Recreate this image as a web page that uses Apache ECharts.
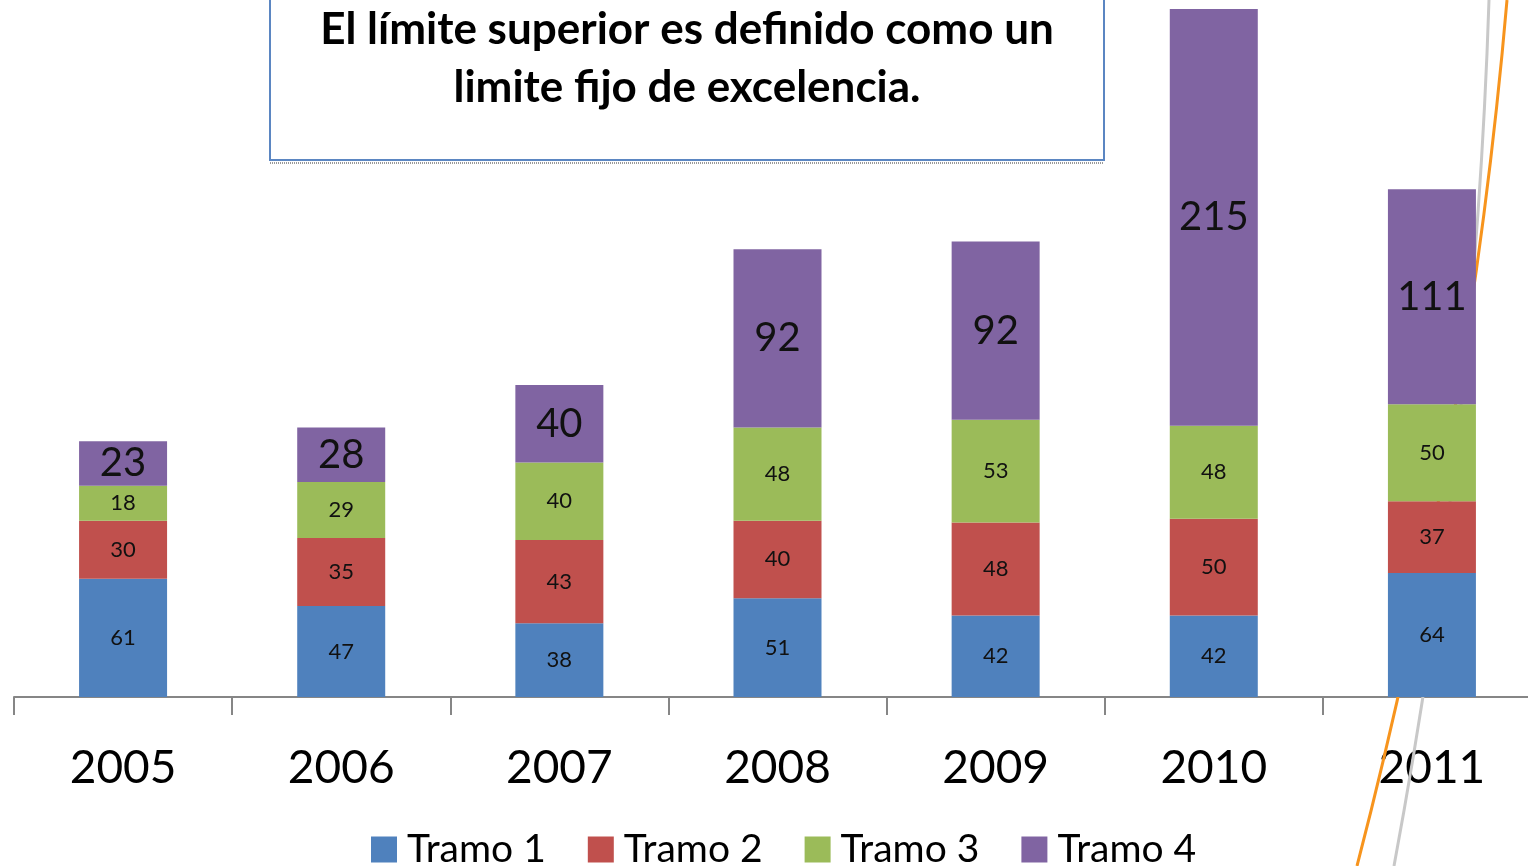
<!DOCTYPE html>
<html>
<head>
<meta charset="utf-8">
<script src="https://cdn.jsdelivr.net/npm/echarts@6/dist/echarts.min.js"></script>
<style>
  html, body { margin: 0; padding: 0; background: #fff; overflow: hidden; }
  #chart { width: 1541px; height: 866px; }
</style>
</head>
<body>
<div id="chart"></div>
<script>
var years = ['2005', '2006', '2007', '2008', '2009', '2010', '2011'];
var tramo1 = [61, 47, 38, 51, 42, 42, 64];
var tramo2 = [30, 35, 43, 40, 48, 50, 37];
var tramo3 = [18, 29, 40, 48, 53, 48, 50];
var tramo4 = [23, 28, 40, 92, 92, 215, 111];
var seriesNames = ['Tramo 1', 'Tramo 2', 'Tramo 3', 'Tramo 4'];
var colors = ['#4f81bd', '#c0504d', '#9bbb59', '#8064a2'];
var titleLines = ['El límite superior es definido como un', 'limite fijo de excelencia.'];

var font = 'Lato, "Open Sans", sans-serif';

// chart is a bit wider than the window: the last tick sits just off the right edge
var chart = echarts.init(document.getElementById('chart'));

function bar(name, data, color, size) {
  return {
    name: name,
    type: 'bar',
    stack: 'total',
    barWidth: 88,
    data: data,
    itemStyle: { color: color },
    label: {
      show: true,
      position: 'inside',
      fontFamily: font,
      fontSize: size,
      color: '#111'
    }
  };
}

chart.setOption({
  backgroundColor: '#fff',
  animation: false,
  color: colors,
  grid: { left: 14, right: 0, top: 9, bottom: 169 },
  legend: {
    data: seriesNames,
    left: 371,
    top: 830,
    padding: 0,
    icon: 'rect',
    itemWidth: 26,
    itemHeight: 26,
    itemGap: 42,
    textStyle: { fontFamily: font, fontSize: 39, color: '#000', padding: [0, 0, 0, 5] }
  },
  xAxis: {
    type: 'category',
    data: years,
    axisLine: { lineStyle: { color: '#868686', width: 2 } },
    axisTick: { show: true, length: 18, lineStyle: { color: '#868686', width: 2 } },
    axisLabel: { fontFamily: font, fontSize: 46, color: '#000', margin: 48 }
  },
  yAxis: {
    type: 'value',
    min: 0,
    max: 355,
    show: false,
    splitLine: { show: false }
  },
  series: [
    bar(seriesNames[0], tramo1, colors[0], 22),
    bar(seriesNames[1], tramo2, colors[1], 22),
    bar(seriesNames[2], tramo3, colors[2], 22),
    bar(seriesNames[3], tramo4, colors[3], 40)
  ],
  graphic: [
    // decorative slide curves, behind the bars
    {
      type: 'bezierCurve', z: 1,
      shape: { x1: 1507, y1: 0, cpx1: 1470, cpy1: 430, x2: 1357, y2: 866 },
      style: { stroke: '#f7941d', lineWidth: 3, fill: null }
    },
    {
      type: 'bezierCurve', z: 1,
      shape: { x1: 1489, y1: 0, cpx1: 1475, cpy1: 430, x2: 1394, y2: 866 },
      style: { stroke: '#c8c8c8', lineWidth: 3, fill: null }
    },
    // title box
    {
      type: 'rect', z: 10,
      shape: { x: 270, y: -5, width: 834, height: 165 },
      style: { fill: '#fff', stroke: '#5b86c2', lineWidth: 2 }
    },
    {
      type: 'line', z: 10,
      shape: { x1: 270, y1: 163, x2: 1104, y2: 163 },
      style: { stroke: '#999', lineWidth: 2, lineDash: [1, 1] }
    },
    {
      type: 'text', z: 11,
      x: 687, y: 30,
      style: {
        text: titleLines[0],
        fontFamily: font, fontSize: 44, fontWeight: 'bold', fill: '#000',
        align: 'center', verticalAlign: 'middle',
        textShadowColor: '#000', textShadowOffsetY: 2
      }
    },
    {
      type: 'text', z: 11,
      x: 687, y: 88,
      style: {
        text: titleLines[1],
        fontFamily: font, fontSize: 44, fontWeight: 'bold', fill: '#000',
        align: 'center', verticalAlign: 'middle',
        textShadowColor: '#000', textShadowOffsetY: 2
      }
    }
  ]
});

window.addEventListener('resize', function () {
  chart.resize();
});
</script>
</body>
</html>
